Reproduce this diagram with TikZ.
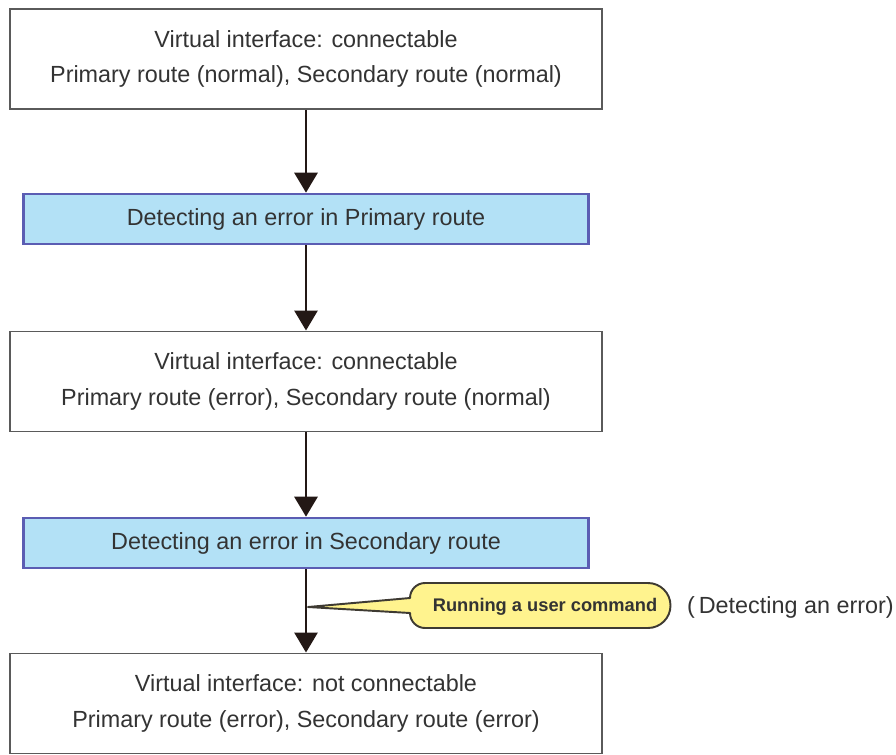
\documentclass[tikz,border=0pt]{standalone}
\usepackage{fontspec}
\setmainfont{Liberation Sans}
\usepackage{xcolor}
\definecolor{textcolor}{HTML}{333333}
\definecolor{stateborder}{HTML}{5A5A5A}
\definecolor{eventfill}{HTML}{B3E1F6}
\definecolor{eventborder}{HTML}{5B5DB3}
\definecolor{arrowcolor}{HTML}{231815}
\definecolor{calloutfill}{HTML}{FFF38E}
\definecolor{calloutborder}{HTML}{3E3A32}
\usepackage{tikz}
\usetikzlibrary{positioning,arrows.meta}
\tikzset{
    state/.style={
        rectangle,
        draw=stateborder,
        fill=white,
        text=textcolor,
        minimum height=2cm,
        minimum width=11.86cm,
        align=center,
        line width=1.1pt,
        font=\fontsize{13.3}{20}\selectfont,
    },
    event/.style={
        rectangle,
        draw=eventborder,
        fill=eventfill,
        text=textcolor,
        minimum height=1cm,
        minimum width=11.3cm,
        align=center,
        line width=1.5pt,
        font=\fontsize{13.3}{16}\selectfont,
    },
    flow/.style={
        -{Triangle[length=4mm,width=4.6mm]},
        line width=1.7pt,
        arrowcolor,
    },
    balloon/.style={
        draw=calloutborder,
        fill=calloutfill,
        line width=1.1pt,
        line join=round,
    },
    cmdtext/.style={
        text=textcolor,
        inner sep=0pt,
        font=\bfseries\fontsize{10.4}{12}\selectfont,
    },
    note/.style={
        text=textcolor,
        font=\fontsize{13.3}{16}\selectfont,
    },
}

\begin{document}
\begin{tikzpicture}[x=0.02cm, y=-0.02cm]
    \useasboundingbox (0,0) rectangle (896,754);

    % States and events (top to bottom)
    \node[state] (s1) at (306, 59) {Virtual interface: connectable\\Primary route (normal), Secondary route (normal)};
    \node[event] (e1) at (306, 219) {Detecting an error in Primary route};
    \node[state] (s2) at (306, 381.5) {Virtual interface: connectable\\Primary route (error), Secondary route (normal)};
    \node[event] (e2) at (306, 543) {Detecting an error in Secondary route};
    \node[state] (s3) at (306, 703.5) {Virtual interface: not connectable\\Primary route (error), Secondary route (error)};

    % Transitions
    \draw[flow] (s1.south) -- (e1.north);
    \draw[flow] (e1.south) -- (s2.north);
    \draw[flow] (s2.south) -- (e2.north);
    \draw[flow] (e2.south) -- (s3.north);

    % User command balloon
    \coordinate (tip) at (308, 607);
    \draw[balloon] (tip) -- (410, 598) arc[start angle=180, end angle=90, radius=0.3cm]
        -- (648, 583) arc[start angle=90, end angle=-90, radius=0.45cm]
        -- (425, 628) arc[start angle=270, end angle=180, radius=0.3cm] -- cycle;
    \node[cmdtext] (cmd) at (545, 607) {Running a user command};
    \node[note, anchor=west] (cmdnote) at (681, 607) {(\,Detecting an error)};

\end{tikzpicture}
\end{document}
